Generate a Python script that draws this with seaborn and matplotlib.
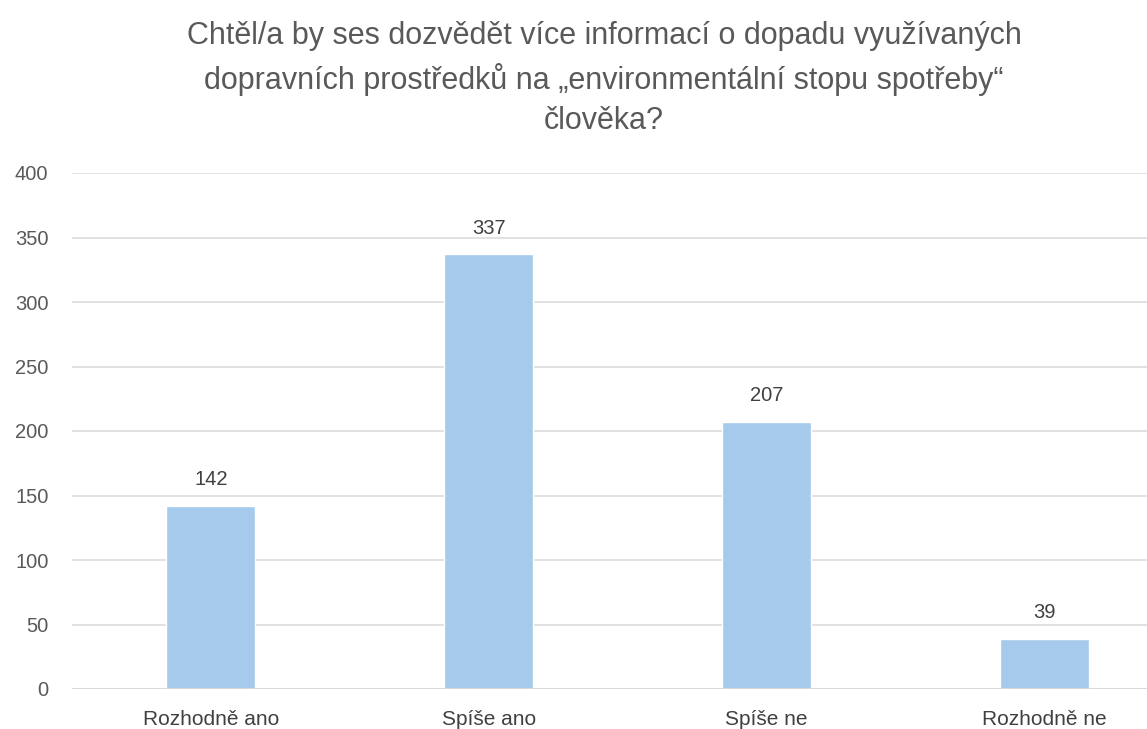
import matplotlib
matplotlib.use("Agg")
import matplotlib.pyplot as plt
import seaborn as sns
import pandas as pd

categories = ["Rozhodně ano", "Spíše ano", "Spíše ne", "Rozhodně ne"]
counts = [142, 337, 207, 39]
y_ticks = [0, 50, 100, 150, 200, 250, 300, 350, 400]
title = ("Chtěl/a by ses dozvědět více informací o dopadu využívaných\n"
         "dopravních prostředků na „environmentální stopu spotřeby“\n"
         "člověka?")

sns.set_theme(style="white")
plt.rcParams["font.family"] = ["Liberation Sans", "DejaVu Sans"]

df = pd.DataFrame({"kategorie": categories, "pocet": counts})

W, H = 1147, 729
fig = plt.figure(figsize=(W / 100, H / 100), dpi=100)
ax = fig.add_axes([72 / W, 40 / H, (1183 - 72) / W, 516 / H])

sns.barplot(data=df, x="kategorie", y="pocet", color="#A6CAEC",
            width=0.32, saturation=1, ax=ax, zorder=3)

ax.set_xlim(-0.5, 3.5)
ax.set_ylim(0, 400)
ax.set_yticks(y_ticks)
ax.grid(axis="y", color="#D9D9D9", linewidth=1.1, zorder=0)
ax.set_xlabel("")
ax.set_ylabel("")
for s in ax.spines.values():
    s.set_visible(False)
ax.axhline(0, color="#D9D9D9", linewidth=1.3, zorder=4)

ax.tick_params(axis="y", length=0, pad=17, labelsize=14.5, labelcolor="#595959")
ax.tick_params(axis="x", length=0, pad=15, labelsize=15, labelcolor="#404040")

for i, v in enumerate(counts):
    ax.annotate(str(v), (i, v), xytext=(0, 12), textcoords="offset points",
                ha="center", va="bottom", fontsize=14.5, color="#404040")

fig.text(604 / W, 1 - 21 / H, title, ha="center", va="top",
         fontsize=22, color="#595959", linespacing=1.45)

fig.savefig("out.png", dpi=100)
